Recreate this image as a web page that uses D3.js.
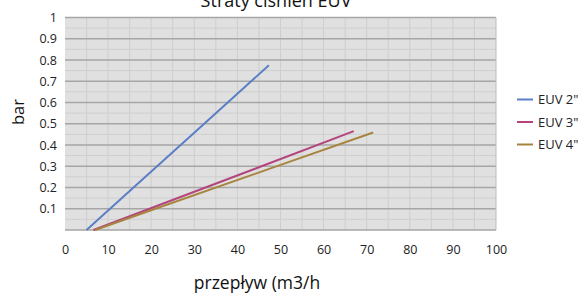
<!DOCTYPE html>
<html><head><meta charset="utf-8">
<script src="https://cdn.jsdelivr.net/npm/d3@7"></script>
<style>body{margin:0;background:#fff;}svg{display:block;font-family:"Open Sans",sans-serif;}</style>
</head><body><svg id="c" width="582" height="295"></svg>
<script>
const title = "Straty ciśnień EUV";
const xTitle = "przepływ (m3/h";
const yTitle = "bar";
const seriesNames = ['EUV 2"', 'EUV 3"', 'EUV 4"'];
const seriesColors = ["#5b7fc4", "#b4457c", "#a8853f"];
const flowEUV2 = [5.0, 15.9, 32.3, 47.3];
const lossEUV2 = [0, 0.2, 0.5, 0.775];
const flowEUV3 = [6.6, 19.6, 45.6, 67.0];
const lossEUV3 = [0, 0.1, 0.3, 0.465];
const flowEUV4 = [7.0, 20.3, 47.7, 71.5];
const lossEUV4 = [0, 0.095, 0.29, 0.459];
const xTicks = [0,10,20,30,40,50,60,70,80,90,100];
const yTickLabels = ["0.1","0.2","0.3","0.4","0.5","0.6","0.7","0.8","0.9","1"];

const flows = [flowEUV2, flowEUV3, flowEUV4];
const losses = [lossEUV2, lossEUV3, lossEUV4];
const series = seriesNames.map((n,i)=>({name:n, color:seriesColors[i],
  pts: flows[i].map((f,j)=>[f, losses[i][j]])}));

const svg = d3.select("#c");
const L=65, R=496, T=17.5, B=230;
const x = d3.scaleLinear().domain([0,100]).range([L,R]);
const y = d3.scaleLinear().domain([0,1]).range([B,T]);

svg.append("rect").attr("x",L).attr("y",T).attr("width",R-L).attr("height",B-T).attr("fill","#e0e0e0");
svg.append("g").selectAll("line").data(d3.range(5,100,5)).join("line")
  .attr("x1",d=>x(d)).attr("x2",d=>x(d)).attr("y1",T).attr("y2",B)
  .attr("stroke","#cecece").attr("stroke-width",1);
svg.append("g").selectAll("line").data(d3.range(0.05,1,0.1)).join("line")
  .attr("x1",L).attr("x2",R).attr("y1",d=>y(d)).attr("y2",d=>y(d))
  .attr("stroke","#cecece").attr("stroke-width",1);
svg.append("g").selectAll("line").data(yTickLabels.map(Number)).join("line")
  .attr("x1",L).attr("x2",R).attr("y1",d=>y(d)).attr("y2",d=>y(d))
  .attr("stroke","#a6a6a6").attr("stroke-width",1.3);
svg.append("line").attr("x1",R).attr("x2",R).attr("y1",T).attr("y2",B).attr("stroke","#bdbdbd");
svg.append("line").attr("x1",L).attr("x2",R).attr("y1",B).attr("y2",B).attr("stroke","#a6a6a6").attr("stroke-width",1.3);

const yAxis = d3.axisLeft(y).tickValues(yTickLabels.map(Number)).tickSize(0).tickPadding(8)
  .tickFormat((d,i)=>yTickLabels[i]);
const gy = svg.append("g").attr("transform",`translate(${L},0)`).call(yAxis);
gy.select(".domain").remove();
gy.selectAll("text").attr("font-size",12.5).attr("fill","#222").attr("font-family","Open Sans, sans-serif");

const xAxis = d3.axisBottom(x).tickValues(xTicks).tickSize(0).tickPadding(15);
const gx = svg.append("g").attr("transform",`translate(0,${B})`).call(xAxis);
gx.select(".domain").remove();
gx.selectAll("text").attr("font-size",12.5).attr("fill","#222").attr("font-family","Open Sans, sans-serif");

const line = d3.line().x(d=>x(d[0])).y(d=>y(d[1]));
svg.append("g").selectAll("path").data(series).join("path")
  .attr("d",d=>line(d.pts)).attr("fill","none").attr("stroke",d=>d.color).attr("stroke-width",2);

svg.append("text").attr("x",276).attr("y",7).attr("text-anchor","middle").attr("font-size",18).attr("fill","#111").text(title);
svg.append("text").attr("x",257).attr("y",289).attr("text-anchor","middle").attr("font-size",17.5).attr("fill","#111").text(xTitle);
svg.append("text").attr("transform","translate(24,112) rotate(-90)").attr("text-anchor","middle").attr("font-size",16.5).attr("fill","#111").text(yTitle);

const lg = svg.append("g").selectAll("g").data(series).join("g")
  .attr("transform",(d,i)=>`translate(517,${99.5+i*22.5})`);
lg.append("line").attr("x1",0).attr("x2",16).attr("stroke",d=>d.color).attr("stroke-width",2);
lg.append("text").attr("x",21).attr("dy","0.35em").attr("font-size",13).attr("fill","#222").text(d=>d.name);
</script></body></html>
